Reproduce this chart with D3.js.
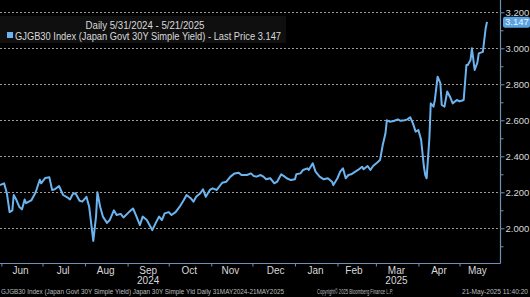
<!DOCTYPE html>
<html><head><meta charset="utf-8">
<script src="https://cdn.jsdelivr.net/npm/d3@7"></script>
<style>html,body{margin:0;padding:0;background:#000;overflow:hidden}svg{display:block}</style>
</head><body><svg id="c" width="530" height="297"></svg>
<script>
const dates = ["2024-05-31","2024-06-03","2024-06-05","2024-06-07","2024-06-09","2024-06-10","2024-06-12","2024-06-14","2024-06-16","2024-06-18","2024-06-19","2024-06-23","2024-06-26","2024-06-29","2024-06-30",
"2024-07-03","2024-07-06","2024-07-08","2024-07-10","2024-07-13","2024-07-16","2024-07-19","2024-07-21","2024-07-23","2024-07-25","2024-07-28","2024-07-30",
"2024-08-02","2024-08-04","2024-08-07","2024-08-09","2024-08-10","2024-08-12","2024-08-14","2024-08-17","2024-08-19","2024-08-22","2024-08-24","2024-08-27","2024-08-29",
"2024-09-02","2024-09-05","2024-09-07","2024-09-10","2024-09-12","2024-09-15","2024-09-17","2024-09-19","2024-09-22","2024-09-24","2024-09-26","2024-09-28",
"2024-10-01","2024-10-03","2024-10-06","2024-10-09","2024-10-12","2024-10-14","2024-10-17","2024-10-19","2024-10-21","2024-10-24","2024-10-26","2024-10-28","2024-10-31",
"2024-11-02","2024-11-05","2024-11-09","2024-11-12","2024-11-15","2024-11-18","2024-11-21","2024-11-23","2024-11-27","2024-11-30",
"2024-12-02","2024-12-04","2024-12-07","2024-12-09","2024-12-11","2024-12-14","2024-12-17","2024-12-19","2024-12-22","2024-12-24","2024-12-26","2024-12-29",
"2025-01-01","2025-01-02","2025-01-05","2025-01-07","2025-01-10","2025-01-11","2025-01-14","2025-01-16","2025-01-19","2025-01-22","2025-01-25","2025-01-28","2025-01-29",
"2025-02-01","2025-02-03","2025-02-05","2025-02-07","2025-02-09","2025-02-11","2025-02-14","2025-02-16","2025-02-19","2025-02-20","2025-02-23","2025-02-25","2025-02-27",
"2025-03-02","2025-03-04","2025-03-06","2025-03-08","2025-03-09","2025-03-11","2025-03-14","2025-03-17","2025-03-19","2025-03-22","2025-03-24","2025-03-26","2025-03-28","2025-03-30",
"2025-04-01","2025-04-03","2025-04-04","2025-04-05","2025-04-06","2025-04-07","2025-04-09","2025-04-10","2025-04-12","2025-04-13","2025-04-15","2025-04-17","2025-04-18","2025-04-20","2025-04-22","2025-04-24","2025-04-26","2025-04-29",
"2025-05-01","2025-05-04","2025-05-06","2025-05-07","2025-05-09","2025-05-10","2025-05-12","2025-05-14","2025-05-15","2025-05-18","2025-05-20","2025-05-21"];
const yields = [2.240,2.250,2.195,2.090,2.100,2.185,2.157,2.120,2.105,2.160,2.140,2.157,2.200,2.270,2.250,
2.280,2.283,2.213,2.217,2.235,2.185,2.172,2.160,2.190,2.195,2.153,2.148,
2.175,2.120,1.930,2.065,2.200,2.120,2.065,2.030,2.046,2.100,2.074,2.080,2.060,
2.090,2.110,2.074,2.018,2.065,2.046,2.018,1.990,2.037,2.065,2.046,2.083,
2.090,2.074,2.090,2.120,2.157,2.185,2.167,2.148,2.175,2.195,2.217,2.175,2.213,
2.222,2.213,2.253,2.259,2.287,2.305,2.309,2.296,2.296,2.305,
2.290,2.287,2.296,2.287,2.272,2.278,2.250,2.259,2.300,2.290,2.278,2.268,
2.272,2.300,2.305,2.324,2.333,2.324,2.361,2.315,2.287,2.272,2.278,2.259,2.240,
2.278,2.315,2.333,2.278,2.296,2.300,2.315,2.324,2.342,2.328,2.346,2.324,2.346,
2.365,2.379,2.463,2.528,2.600,2.592,2.596,2.605,2.597,2.600,2.605,2.617,2.583,2.537,
2.546,2.490,2.417,2.342,2.296,2.278,2.500,2.694,2.676,2.713,2.842,2.806,2.685,2.676,2.760,2.731,2.694,2.713,
2.705,2.713,2.907,2.907,2.935,3.000,2.880,2.920,2.972,2.980,3.110,3.147];
const yTicks = [2.0,2.2,2.4,2.6,2.8,3.0,3.2];
const yMinorTicks = [1.9,2.1,2.3,2.5,2.7,2.9,3.1];
const monthLabels = ["Jun","Jul","Aug","Sep","Oct","Nov","Dec","Jan","Feb","Mar","Apr","May"];
const monthLabelDates = ["2024-06-15","2024-07-16","2024-08-16","2024-09-16","2024-10-16","2024-11-15","2024-12-18","2025-01-16","2025-02-13","2025-03-16","2025-04-16","2025-05-14"];
const monthStarts = ["2024-06-01","2024-07-01","2024-08-01","2024-09-01","2024-10-01","2024-11-01","2024-12-01","2025-01-01","2025-02-01","2025-03-01","2025-04-01","2025-05-01"];
const yearLabels = ["2024","2025"];
const yearLabelDates = ["2024-09-16","2025-03-16"];
const lastPrice = 3.147;

const parse = d3.timeParse("%Y-%m-%d");
const data = dates.map((d,i)=>({date:parse(d), v:yields[i]}));

const svg = d3.select("#c");
const W = 530, H = 297;
const plotR = 500.5, plotB = 263;
const x = d3.scaleTime().domain([parse("2024-05-31"), parse("2025-05-21")]).range([0, 487]);
const y = d3.scaleLinear().domain([1.8072, 3.2683]).range([plotB, 0]);

svg.append("rect").attr("width",W).attr("height",H).attr("fill","#000");

const font = "'Liberation Sans', Arial, sans-serif";
const txt = "#d9d9d9";
const axisCol = "#6f8fb3";

// gridlines
svg.append("g").selectAll("line").data(yTicks).join("line")
  .attr("x1",0).attr("x2",plotR).attr("y1",d=>Math.round(y(d))+0.5).attr("y2",d=>Math.round(y(d))+0.5)
  .attr("stroke","#9a9a9a").attr("stroke-width",1).attr("stroke-dasharray","2,2");

// legend box
svg.append("rect").attr("x",0).attr("y",16).attr("width",286).attr("height",27).attr("fill","#0f0f0f");
svg.append("text").attr("x",145).attr("y",29).attr("text-anchor","middle")
  .attr("font-family",font).attr("font-size",10).attr("fill",txt)
  .attr("textLength",119).attr("lengthAdjust","spacingAndGlyphs")
  .text("Daily 5/31/2024 - 5/21/2025");
svg.append("rect").attr("x",7).attr("y",32).attr("width",6).attr("height",6).attr("fill","#6cb4f0");
svg.append("text").attr("x",15).attr("y",39.5)
  .attr("font-family",font).attr("font-size",10).attr("fill",txt)
  .attr("textLength",266).attr("lengthAdjust","spacingAndGlyphs")
  .text("GJGB30 Index (Japan Govt 30Y Simple Yield) - Last Price 3.147");

// line
svg.append("clipPath").attr("id","pc").append("rect").attr("x",0).attr("y",0).attr("width",plotR).attr("height",plotB);
svg.append("path").datum(data).attr("clip-path","url(#pc)")
  .attr("d", d3.line().x(d=>x(d.date)).y(d=>y(d.v)))
  .attr("fill","none").attr("stroke","#6cb4f0").attr("stroke-width",2).attr("stroke-linejoin","round");

// right axis
const ra = svg.append("g").attr("transform",`translate(${plotR},0)`)
  .call(d3.axisRight(y).tickValues(yTicks).tickSize(4).tickPadding(1).tickFormat(d3.format(".3f")));
ra.select(".domain").remove();
ra.selectAll(".tick line").attr("stroke",axisCol);
ra.selectAll(".tick text").attr("fill",txt).attr("font-family",font).attr("font-size",9.5);
svg.append("g").attr("transform",`translate(${plotR},0)`)
  .call(d3.axisRight(y).tickValues(yMinorTicks).tickSize(3).tickFormat(""))
  .call(g=>{g.select(".domain").remove(); g.selectAll(".tick line").attr("stroke",axisCol);});
svg.append("line").attr("x1",plotR).attr("x2",plotR).attr("y1",0).attr("y2",plotB+0.5).attr("stroke",axisCol).attr("stroke-width",1.2);

// bottom axis
svg.append("line").attr("x1",0).attr("x2",plotR).attr("y1",plotB+0.5).attr("y2",plotB+0.5).attr("stroke",axisCol).attr("stroke-width",1.2);
const ba = svg.append("g").attr("transform",`translate(0,${plotB+0.5})`)
  .call(d3.axisBottom(x).tickValues(monthStarts.map(parse)).tickSize(3).tickFormat(""));
ba.select(".domain").remove();
ba.selectAll(".tick line").attr("stroke",axisCol);
svg.append("g").selectAll("text").data(monthLabels).join("text")
  .attr("x",(d,i)=>x(parse(monthLabelDates[i]))).attr("y",274).attr("text-anchor","middle")
  .attr("font-family",font).attr("font-size",10).attr("fill",txt).text(d=>d);
svg.append("g").selectAll("text").data(yearLabels).join("text")
  .attr("x",(d,i)=>x(parse(yearLabelDates[i]))).attr("y",284).attr("text-anchor","middle")
  .attr("font-family",font).attr("font-size",10).attr("fill",txt).text(d=>d);

// last price tag
const ly = y(lastPrice);
svg.append("rect").attr("x",503).attr("y",ly-5).attr("width",27).attr("height",11).attr("rx",2).attr("fill","#5aa2e0");
svg.append("text").attr("x",505).attr("y",ly+3.5).attr("font-family",font).attr("font-size",9.5).attr("fill","#eaf4ff").text(d3.format(".3f")(lastPrice));

// footer
const ff = svg.append("g").attr("font-family",font).attr("font-size",6.5).attr("fill","#bdbdbd");
ff.append("text").attr("x",1).attr("y",294).attr("textLength",283).attr("lengthAdjust","spacingAndGlyphs")
  .text("GJGB30 Index (Japan Govt 30Y Simple Yield) Japan 30Y Simple Yld  Daily 31MAY2024-21MAY2025");
ff.append("text").attr("x",317).attr("y",294).attr("textLength",76).attr("lengthAdjust","spacingAndGlyphs")
  .text("Copyright© 2025 Bloomberg Finance L.P.");
ff.append("text").attr("x",462).attr("y",294).attr("textLength",66).attr("lengthAdjust","spacingAndGlyphs")
  .text("21-May-2025 11:40:20");
</script></body></html>
